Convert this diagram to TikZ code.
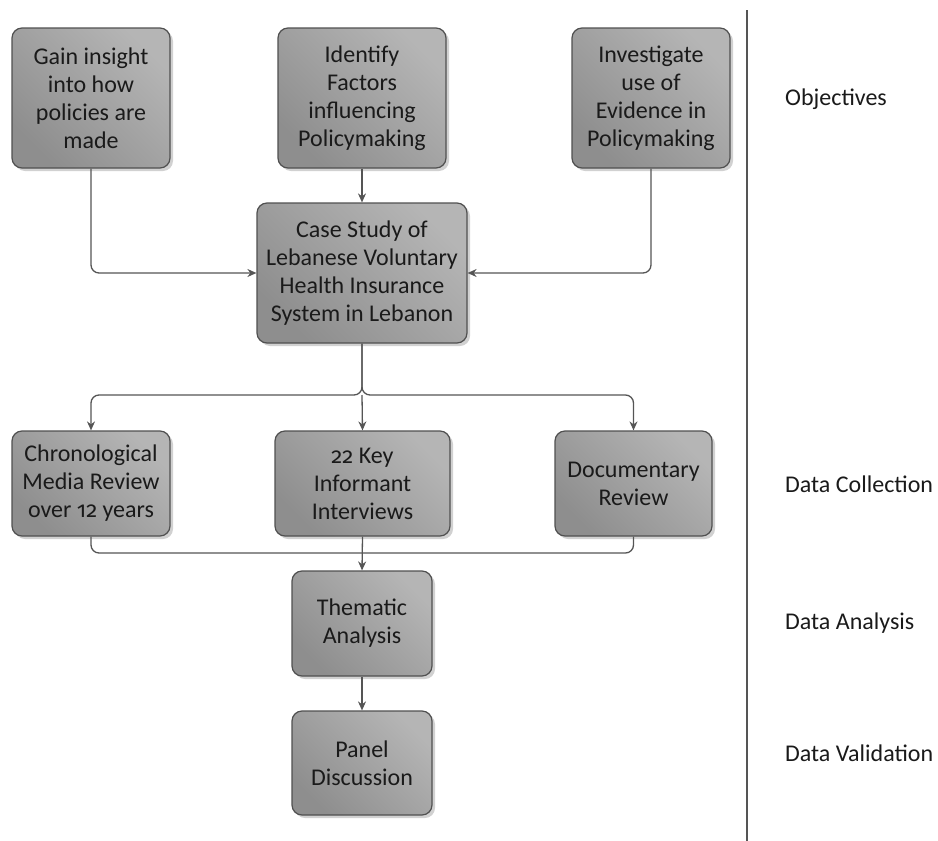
\documentclass[tikz,border=0pt]{standalone}
\usepackage{fontspec}
\setmainfont{Carlito}
\newfontfamily\numfont{Fira Sans}[Numbers=OldStyle,Scale=0.92]
\newcommand{\osn}[1]{{\numfont #1}}
\usetikzlibrary{shadows,arrows.meta}
\definecolor{boxdark}{HTML}{8E8E8E}
\definecolor{boxlight}{HTML}{B5B5B5}
\definecolor{boxline}{HTML}{505050}
\definecolor{connc}{HTML}{555555}
\definecolor{txt}{HTML}{1A1A1A}
\tikzset{
  box/.style={draw=boxline, line width=1.2pt, rounded corners=10pt,
    left color=boxdark, right color=boxlight, shading angle=135,
    drop shadow={shadow xshift=3pt, shadow yshift=-3pt, fill=black!18, opacity=1},
    inner sep=0pt, align=center, text=txt,
    font=\fontsize{24}{28}\selectfont},
  conn/.style={draw=connc, line width=1.3pt, rounded corners=8pt,
    -{Stealth[length=9pt,width=8pt]}},
  plain/.style={draw=connc, line width=1.3pt, rounded corners=8pt},
  lab/.style={anchor=west, text=txt, inner sep=0pt, font=\fontsize{24}{28}\selectfont}
}
\begin{document}
\begin{tikzpicture}[x=1pt,y=-1pt]
\useasboundingbox (0,0) rectangle (938,841);
% objectives
\node[box, minimum width=158pt, minimum height=140pt] (b1) at (91,98) {Gain insight\\into how\\policies are\\made};
\node[box, minimum width=168pt, minimum height=140pt] (b2) at (362,98) {Identify\\Factors\\influencing\\Policymaking};
\node[box, minimum width=158pt, minimum height=140pt] (b3) at (651,98) {Investigate\\use of\\Evidence in\\Policymaking};
\node[box, minimum width=210pt, minimum height=140pt] (cs) at (362,273) {Case Study of\\Lebanese Voluntary\\Health Insurance\\System in Lebanon};
% data collection
\node[box, minimum width=158pt, minimum height=105pt] (b4) at (91,483.5) {Chronological\\Media Review\\over \osn{12} years};
\node[box, minimum width=175pt, minimum height=105pt] (b5) at (362.5,483.5) {\osn{22} Key\\Informant\\Interviews};
\node[box, minimum width=157pt, minimum height=105pt] (b6) at (633.5,483.5) {Documentary\\Review};
% analysis, validation
\node[box, minimum width=140pt, minimum height=105pt] (th) at (362,623.5) {Thematic\\Analysis};
\node[box, minimum width=140pt, minimum height=104pt] (pn) at (362,763) {Panel\\Discussion};
% connectors
\draw[conn] (b1.south) |- (cs.west);
\draw[conn] (b2.south) -- (cs.north);
\draw[conn] (b3.south) |- (cs.east);
\coordinate (split) at (362,395);
\coordinate (join) at (362,553);
\draw[conn] (cs.south) -- (split) -| (b4.north);
\draw[conn] (cs.south) -- (split) -| (b6.north);
\draw[conn] (split) -- (b5.north);
\draw[plain] (b4.south) |- (join);
\draw[plain] (b6.south) |- (join);
\draw[conn] (b5.south) -- (th.north);
\draw[conn] (th.south) -- (pn.north);
% divider
\coordinate (dtop) at (747,10);
\coordinate (dbot) at (747,841);
\draw[draw=connc, line width=1.2pt] (dtop) -- (dbot);
% stage labels
\node[lab] (l1) at (785,99) {Objectives};
\node[lab] (l2) at (785,484) {Data Collection};
\node[lab] (l3) at (785,623) {Data Analysis};
\node[lab] (l4) at (785,753) {Data Validation};
\end{tikzpicture}
\end{document}
